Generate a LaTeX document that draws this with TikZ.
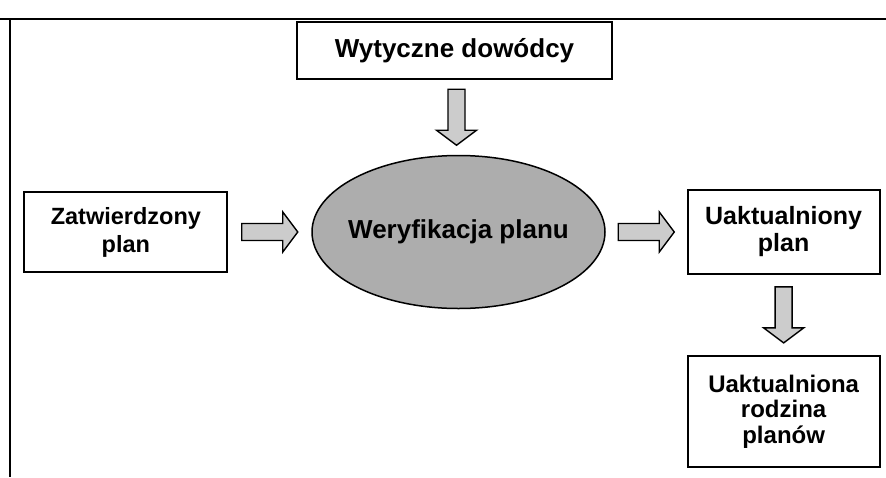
\documentclass[tikz,border=0pt]{standalone}
\usepackage{fontspec}
\setmainfont{Liberation Sans}
\usetikzlibrary{positioning,calc,shapes.geometric}

% fat grey arrow halfway between two anchors
\newcommand{\blockarrow}[3]{%
  \begin{scope}[shift={($(#1)!0.5!(#2)$)},rotate=#3]
    \draw[arrowbody] (-28,-8.5) -- (13,-8.5) -- (13,-20) -- (28,0)
      -- (13,20) -- (13,8.5) -- (-28,8.5) -- cycle;
  \end{scope}}

\begin{document}
\begin{tikzpicture}[x=1pt,y=1pt,
                    font=\fontsize{26}{26}\selectfont\bfseries,
                    box/.style={draw,line width=1.8pt,fill=white,align=center,inner sep=0pt},
                    arrowbody/.style={draw,line width=1.4pt,fill=black!20,line join=miter}]
  \useasboundingbox (0,0) rectangle (886,-477);

  % frame
  \draw[line width=2pt] (0,-19) -- (886,-19);
  \draw[line width=2pt] (10,-19) -- (10,-477);

  % the ellipse is sized by hand, its label goes on top
  \node[ellipse,draw,line width=1.5pt,fill=black!32,inner sep=0pt,
        minimum width=293pt,minimum height=153pt] (wer) at (458.5,-232) {};
  \node (werlabel) at (wer) {Weryfikacja planu};
  \node[box,minimum width=315pt,minimum height=57pt]  (wyt)  [above=75pt of wer,xshift=-4pt] {Wytyczne dowódcy};
  \node[box,minimum width=203pt,minimum height=80pt,
        font=\fontsize{23.5}{28}\selectfont\bfseries]  (zatw) [left=83pt of wer]  {Zatwierdzony\\plan};
  \node[box,minimum width=192pt,minimum height=84pt,
        font=\fontsize{25}{27}\selectfont\bfseries]  (uakt) [right=81pt of wer] {Uaktualniony\\plan};
  \node[box,minimum width=192pt,minimum height=111pt,
        font=\fontsize{24}{25.5}\selectfont\bfseries] (rodz) [below=80pt of uakt] {Uaktualniona\\rodzina\\planów};

  \blockarrow{zatw.east}{wer.west}{0}
  \blockarrow{wer.east}{uakt.west}{0}
  \blockarrow{wyt.south}{wer.north}{-90}
  \blockarrow{uakt.south}{rodz.north}{-90}

\end{tikzpicture}
\end{document}
